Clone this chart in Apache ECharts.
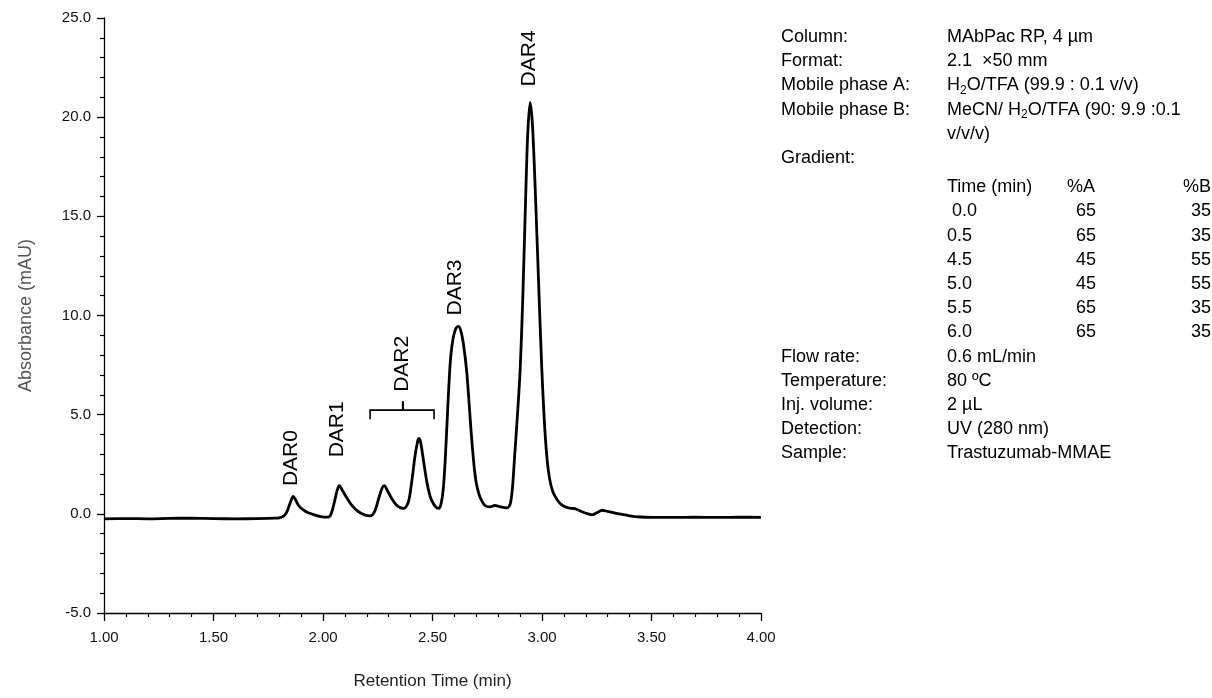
<!DOCTYPE html>
<html><head><meta charset="utf-8">
<script src="https://cdn.jsdelivr.net/npm/echarts@6/dist/echarts.min.js"></script>
<style>html,body{margin:0;padding:0;background:#fff}#c{width:1212px;height:698px}</style>
</head><body><div id="c"></div>
<script>
// ---- data ----
const retentionTime = [
  1.00,1.10,1.20,1.30,1.40,1.50,1.60,1.70,1.78,1.80,1.82,1.835,1.85,1.864,1.875,1.89,1.91,1.93,1.96,1.99,
  2.02,2.035,2.05,2.065,2.075,2.09,2.11,2.13,2.16,2.19,2.215,2.235,2.255,2.27,2.28,2.295,2.315,2.335,2.355,2.37,
  2.39,2.405,2.42,2.432,2.438,2.446,2.46,2.475,2.49,2.505,2.52,2.53,2.54,2.55,2.558,2.566,2.574,2.583,2.595,2.607,
  2.618,2.63,2.642,2.656,2.667,2.678,2.69,2.70,2.712,2.725,2.74,2.76,2.785,2.81,2.84,2.855,2.865,2.875,2.888,2.90,
  2.912,2.925,2.935,2.946,2.957,2.971,2.985,2.998,3.01,3.022,3.035,3.05,3.07,3.09,3.11,3.13,3.15,3.18,3.21,3.23,
  3.25,3.275,3.30,3.33,3.36,3.40,3.45,3.50,3.60,3.70,3.80,3.90,4.00
];
const absorbance = [
  -0.25,-0.24,-0.25,-0.23,-0.22,-0.24,-0.25,-0.24,-0.22,-0.20,-0.12,0.10,0.55,0.88,0.70,0.40,0.20,0.07,-0.05,-0.14,
  -0.17,-0.05,0.50,1.20,1.42,1.15,0.78,0.45,0.12,-0.05,-0.10,0.10,0.80,1.30,1.42,1.15,0.75,0.45,0.30,0.28,
  0.60,1.60,2.90,3.65,3.80,3.60,2.60,1.55,0.85,0.50,0.30,0.28,0.55,1.35,2.70,4.50,6.30,7.90,8.90,9.35,
  9.45,9.20,8.50,7.20,5.60,3.90,2.40,1.55,1.00,0.65,0.42,0.35,0.42,0.35,0.30,0.50,1.30,2.90,5.00,7.20,
  10.80,15.80,19.20,20.75,19.50,15.80,11.50,7.60,4.80,2.90,1.75,1.10,0.70,0.45,0.33,0.28,0.26,0.12,0.00,-0.05,
  0.05,0.18,0.12,0.05,-0.02,-0.10,-0.16,-0.18,-0.18,-0.17,-0.18,-0.17,-0.18
];
const xTicks = [1.00,1.50,2.00,2.50,3.00,3.50,4.00];
const yTicks = [-5,0,5,10,15,20,25];

const peakNames = ['DAR0','DAR1','DAR2','DAR3','DAR4'];
const peakLabelTime = [1.858, 2.066, 2.361, 2.603, 2.942];
const peakLabelValue = [1.4, 2.85, 6.15, 10.0, 21.55];

// DAR2 bracket (time span and level)
const bracketTime = [2.215, 2.365, 2.507];
const bracketValue = [4.77, 5.23, 5.68]; // foot, bar, tip

// method text
const infoTop = ['Column:','Format:','Mobile phase A:','Mobile phase B:','','Gradient:'];
const infoTopVal = ['MAbPac RP, 4 µm','2.1  ×50 mm','{n|H}{s|2}{n|O/TFA (99.9 : 0.1 v/v)}','{n|MeCN/ H}{s|2}{n|O/TFA (90: 9.9 :0.1}','v/v/v)',''];
const gradHeader = ['Time (min)','%A','%B'];
const gradTime = [' 0.0','0.5','4.5','5.0','5.5','6.0'];
const gradA = ['65','65','45','45','65','65'];
const gradB = ['35','35','55','55','35','35'];
const infoBottom = ['Flow rate:','Temperature:','Inj. volume:','Detection:','Sample:'];
const infoBottomVal = ['0.6 mL/min','80 ºC','2 µL','UV (280 nm)','Trastuzumab-MMAE'];

// ---- chart ----
const FONT = 'Liberation Sans, Arial, sans-serif';
const FS = 18;
const trace = retentionTime.map((t, i) => [t, absorbance[i]]);
const labelData = peakNames.map((n, i) => [peakLabelTime[i], peakLabelValue[i]]);

const graphics = [];
const txt = (x, y, s) => graphics.push({
  type: 'text', x: x, y: y,
  style: { text: s, fontSize: FS, fontFamily: FONT, fill: '#000', align: 'left', verticalAlign: 'middle',
    rich: { n: { fontSize: FS, fontFamily: FONT, lineHeight: 22 }, s: { fontSize: 12, fontFamily: FONT, lineHeight: 10, verticalAlign: 'bottom' } } }
});
const X1 = 781, X2 = 947, XAH = 1067, XA = 1076, XBH = 1183, XB = 1191, Y0 = 37, DY = 24.2;
let y = Y0;
infoTop.forEach((l, i) => { txt(X1, y, l); txt(X2, y, infoTopVal[i]); y += DY; });
y += 5;
txt(X2, y, gradHeader[0]); txt(XAH, y, gradHeader[1]); txt(XBH, y, gradHeader[2]); y += DY;
gradTime.forEach((t, i) => { txt(X2, y, t); txt(XA, y, gradA[i]); txt(XB, y, gradB[i]); y += DY; });
infoBottom.forEach((l, i) => { txt(X1, y, l); txt(X2, y, infoBottomVal[i]); y += DY; });

const chart = echarts.init(document.getElementById('c'), null, { renderer: 'canvas' });
chart.setOption({
  animation: false,
  backgroundColor: '#fff',
  grid: { left: 104, right: 451, top: 18, bottom: 85 },
  xAxis: {
    type: 'value', min: xTicks[0], max: xTicks[xTicks.length - 1], interval: xTicks[1] - xTicks[0],
    name: 'Retention Time (min)', nameLocation: 'middle', nameGap: 60,
    nameTextStyle: { fontSize: 17, fontFamily: FONT, color: '#222' },
    axisLine: { show: true, onZero: false, lineStyle: { color: '#000', width: 1.3 } },
    axisTick: { show: true, length: 8, lineStyle: { color: '#000', width: 1.3 } },
    minorTick: { show: true, splitNumber: 5, length: 4, lineStyle: { color: '#000', width: 1.2 } },
    splitLine: { show: false },
    axisLabel: { fontSize: 15, fontFamily: FONT, color: '#111', margin: 17, formatter: v => v.toFixed(2) }
  },
  yAxis: {
    type: 'value', min: yTicks[0], max: yTicks[yTicks.length - 1], interval: yTicks[1] - yTicks[0],
    name: 'Absorbance (mAU)', nameLocation: 'middle', nameGap: 69,
    nameTextStyle: { fontSize: 18, fontFamily: FONT, color: '#555' },
    axisLine: { show: true, onZero: false, lineStyle: { color: '#000', width: 1.3 } },
    axisTick: { show: true, length: 7, lineStyle: { color: '#000', width: 1.3 } },
    minorTick: { show: true, splitNumber: 5, length: 4, lineStyle: { color: '#000', width: 1.2 } },
    splitLine: { show: false },
    axisLabel: { fontSize: 15, fontFamily: FONT, color: '#111', margin: 13, formatter: v => v.toFixed(1) }
  },
  series: [
    {
      type: 'line', data: trace, showSymbol: false, smooth: 0.3,
      lineStyle: { color: '#000', width: 2.8 }, z: 3
    },
    {
      type: 'custom', data: labelData, z: 4,
      renderItem: (params, api) => {
        const p = api.coord([api.value(0), api.value(1)]);
        return {
          type: 'text', x: p[0], y: p[1], rotation: Math.PI / 2, scaleX: 1.05,
          style: { text: peakNames[params.dataIndex], fontSize: 20, fontFamily: FONT, fill: '#000', align: 'left', verticalAlign: 'middle' }
        };
      }
    },
    {
      type: 'custom', data: [[bracketTime[0], bracketValue[1]]], z: 4,
      renderItem: (params, api) => {
        const a = api.coord([bracketTime[0], bracketValue[0]]);
        const b = api.coord([bracketTime[0], bracketValue[1]]);
        const c = api.coord([bracketTime[2], bracketValue[1]]);
        const d = api.coord([bracketTime[2], bracketValue[0]]);
        const m1 = api.coord([bracketTime[1], bracketValue[1]]);
        const m2 = api.coord([bracketTime[1], bracketValue[2]]);
        return { type: 'group', children: [
          { type: 'polyline', shape: { points: [a, b, c, d] }, style: { stroke: '#000', lineWidth: 1.6, fill: null } },
          { type: 'line', shape: { x1: m1[0], y1: m1[1], x2: m2[0], y2: m2[1] }, style: { stroke: '#000', lineWidth: 2.2 } }
        ] };
      }
    }
  ],
  graphic: graphics
});
</script></body></html>
